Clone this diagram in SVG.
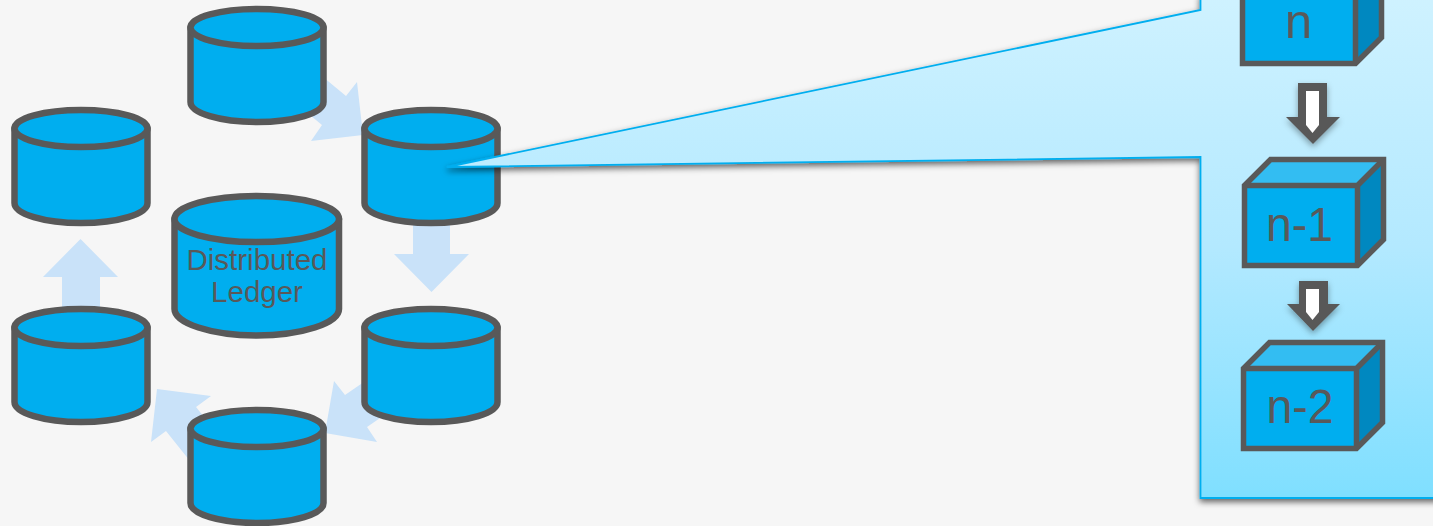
<svg xmlns="http://www.w3.org/2000/svg" width="1433" height="526" viewBox="0 0 1433 526">
<style>
.cyl{fill:#00aeef;stroke:#595959;stroke-width:6.500;stroke-linejoin:round}
.flow{fill:#c9e2f9}
.edge{fill:none;stroke:#595959;stroke-width:5.500;stroke-linejoin:miter}
.dark{fill:#595959}
.white{fill:#fff}
text{font-family:"Liberation Sans",Arial,sans-serif;fill:#595959;text-anchor:middle}
.lbl{font-size:29.500px}
.blk{font-size:49px}
</style>
<defs>
<linearGradient id="callFill" x1="0" y1="0" x2="0" y2="1"><stop offset="0" stop-color="#cff2ff"/><stop offset="0.5" stop-color="#b3e9ff"/><stop offset="1" stop-color="#7fdfff"/></linearGradient>
<filter id="shadow" x="-5%" y="-5%" width="110%" height="115%"><feDropShadow dx="0" dy="3" stdDeviation="3" flood-color="#000" flood-opacity="0.6"/></filter>
<filter id="arrowShadow" x="-30%" y="-20%" width="160%" height="150%"><feDropShadow dx="0" dy="3" stdDeviation="3" flood-color="#000" flood-opacity="0.35"/></filter>
<g id="cylinder"><path class="cyl" d="M2.500 21.500V96C2.500 107 32 116 69 116S135.500 107 135.500 96V21.500Z"/><ellipse class="cyl" cx="69" cy="21.500" rx="66.500" ry="18.500"/></g>
<g id="cube">
<path fill="#33bdf2" d="M2.500 28.500L28.500 2.500H141.500L115.500 28.500Z"/>
<path fill="#0088c0" d="M115.500 28.500L141.500 2.500V82.500L115.500 108.500Z"/>
<rect fill="#00aeef" x="2.500" y="28.500" width="113" height="80"/>
<path class="edge" d="M2.500 28.500H115.500V108.500M115.500 28.500L141.500 2.500"/>
<path class="edge" d="M2.500 28.500L28.500 2.500H141.500V82.500L115.500 108.500H2.500Z"/>
</g>
</defs>
<rect width="1433" height="526" fill="#f6f6f6"/>
<g id="connectors">
<path class="flow" d="M317 72L346 96L357 82L363 135L311 141L322 125L293 101Z"/>
<path class="flow" d="M413 215H450V254H469L431.500 292L394 254H413Z"/>
<path class="flow" d="M377 373L345 395L334 381L325 433L377 442L367 427L399 405Z"/>
<path class="flow" d="M220 437L196 407L211 396L157 389L151 442L166 431L190 461Z"/>
<path class="flow" d="M62 315V277H43L80.500 239L118 277H100V315Z"/>
</g>
<use id="node-top" href="#cylinder" x="188" y="6"/>
<use id="node-right-upper" href="#cylinder" x="362" y="107"/>
<use id="node-right-lower" href="#cylinder" x="362" y="306"/>
<use id="node-bottom" href="#cylinder" x="188" y="407"/>
<use id="node-left-lower" href="#cylinder" x="12" y="306"/>
<use id="node-left-upper" href="#cylinder" x="12" y="107"/>
<g id="node-ledger">
<path class="cyl" d="M174.500 219V309C174.500 323 211 335.500 256.500 335.500S339 323 339 309V219Z"/>
<ellipse class="cyl" cx="256.750" cy="219" rx="82.250" ry="23"/>
<text class="lbl" x="257" y="270">Distributed</text>
<text class="lbl" x="257" y="302">Ledger</text>
</g>
<g id="callout">
<path d="M1200.500 -5V10L447 167L1200.500 157V498H1440V-5Z" fill="url(#callFill)" stroke="#00aeef" stroke-width="1.800" filter="url(#shadow)"/>
</g>
<g id="block-n"><use href="#cube" x="1240" y="-45"/><text class="blk" x="1298.500" y="37.500">n</text></g>
<g id="arrow-1">
<path class="dark" d="M1298 83H1327V117H1340L1313 144L1286 117H1298Z" filter="url(#arrowShadow)"/>
<path class="white" d="M1306 91H1319V125L1312.500 133L1306 125Z"/>
</g>
<g id="block-n-1"><use href="#cube" x="1242" y="157"/><text class="blk" x="1299.500" y="240.500" textLength="67" lengthAdjust="spacingAndGlyphs">n-1</text></g>
<g id="arrow-2">
<path class="dark" d="M1299 281H1328V304H1340L1313 331L1287 304H1299Z" filter="url(#arrowShadow)"/>
<path class="white" d="M1306 289H1319V312L1312.500 320L1306 312Z"/>
</g>
<g id="block-n-2"><use href="#cube" x="1241" y="340"/><text class="blk" x="1300" y="423" textLength="67" lengthAdjust="spacingAndGlyphs">n-2</text></g>
</svg>
